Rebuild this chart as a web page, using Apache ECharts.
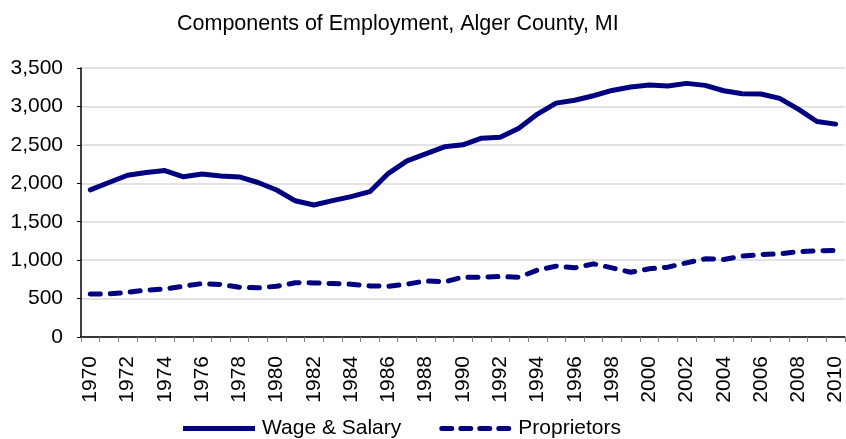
<!DOCTYPE html>
<html>
<head>
<meta charset="utf-8">
<script src="https://cdn.jsdelivr.net/npm/echarts@6/dist/echarts.min.js"></script>
<style>
html,body{margin:0;padding:0;background:#fff;}
#chart{width:846px;height:439px;}
</style>
</head>
<body>
<div id="chart"></div>
<script>
const years = [];
for (let y = 1970; y <= 2010; y++) years.push(String(y));
const wageSalary = [1915, 2010, 2105, 2140, 2165, 2085, 2120, 2095, 2083, 2010,
  1913, 1772, 1717, 1774, 1826, 1891, 2130, 2291, 2382, 2474,
  2500, 2587, 2600, 2717, 2900, 3043, 3080, 3139, 3208, 3252,
  3278, 3265, 3300, 3274, 3204, 3165, 3161, 3104, 2965, 2804, 2770];
const proprietors = [560, 560, 583, 609, 626, 660, 696, 683, 648, 640,
  660, 705, 704, 696, 687, 665, 660, 687, 730, 717,
  778, 778, 787, 778, 870, 922, 900, 952, 900, 843,
  887, 909, 965, 1017, 1009, 1052, 1074, 1083, 1109, 1122, 1125];
const seriesNames = ['Wage & Salary', 'Proprietors'];
const titleText = 'Components of Employment, Alger County, MI';

const FONT = '"Liberation Sans", Arial, sans-serif';
const NAVY = '#000080';
function dash(x0, x1) {
  return 'M' + (x0 + 2.5) + ',0 L' + (x1 - 2.5) + ',0 A2.5,2.5 0 0 1 ' + (x1 - 2.5) + ',5 L' + (x0 + 2.5) + ',5 A2.5,2.5 0 0 1 ' + (x0 + 2.5) + ',0 Z ';
}
const solidIcon = 'path://M0,0 L72,0 L72,5 L0,5 Z';
const dashIcon = 'path://' + dash(0, 15) + dash(19, 34) + dash(38, 53) + dash(57, 72);

const chart = echarts.init(document.getElementById('chart'), null, {renderer: 'canvas'});
chart.setOption({
  animation: false,
  backgroundColor: '#ffffff',
  title: {
    text: titleText,
    left: 177, top: 13, padding: 0,
    textStyle: {fontFamily: FONT, fontSize: 21.5, fontWeight: 'normal', color: '#000'}
  },
  legend: {
    left: 183, top: 418, padding: 0,
    itemWidth: 72, itemHeight: 5, itemGap: 38,
    textStyle: {fontFamily: FONT, fontSize: 21, color: '#000', padding: [0,0,0,2]},
    data: [
      {name: seriesNames[0], icon: solidIcon, itemStyle: {color: NAVY}},
      {name: seriesNames[1], icon: dashIcon, itemStyle: {color: NAVY}}
    ]
  },
  grid: {left: 81, top: 68, width: 769, height: 269, containLabel: false},
  xAxis: {
    type: 'category',
    data: years,
    boundaryGap: true,
    axisLine: {lineStyle: {color: '#000', width: 1.5}},
    axisTick: {show: true, interval: 0, length: 5, lineStyle: {color: '#808080', width: 1}},
    axisLabel: {interval: 1, rotate: 90, margin: 19, fontFamily: FONT, fontSize: 21, color: '#000'}
  },
  yAxis: {
    type: 'value',
    min: 0, max: 3500, interval: 500,
    axisLine: {show: true, lineStyle: {color: '#000', width: 1.5}},
    axisTick: {show: true, length: 4, lineStyle: {color: '#000'}},
    axisLabel: {margin: 18, fontFamily: FONT, fontSize: 21, color: '#000',
      formatter: v => v.toLocaleString('en-US')},
    splitLine: {lineStyle: {color: '#d9d9d9', width: 1.5}}
  },
  series: [
    {
      name: seriesNames[0], type: 'line', data: wageSalary,
      symbol: 'none', showSymbol: false,
      lineStyle: {color: NAVY, width: 5, cap: 'round', join: 'round'},
      itemStyle: {color: NAVY}
    },
    {
      name: seriesNames[1], type: 'line', data: proprietors,
      symbol: 'none', showSymbol: false,
      lineStyle: {color: NAVY, width: 5, type: [10, 10], cap: 'round', join: 'round'},
      itemStyle: {color: NAVY}
    }
  ]
});
</script>
</body>
</html>
